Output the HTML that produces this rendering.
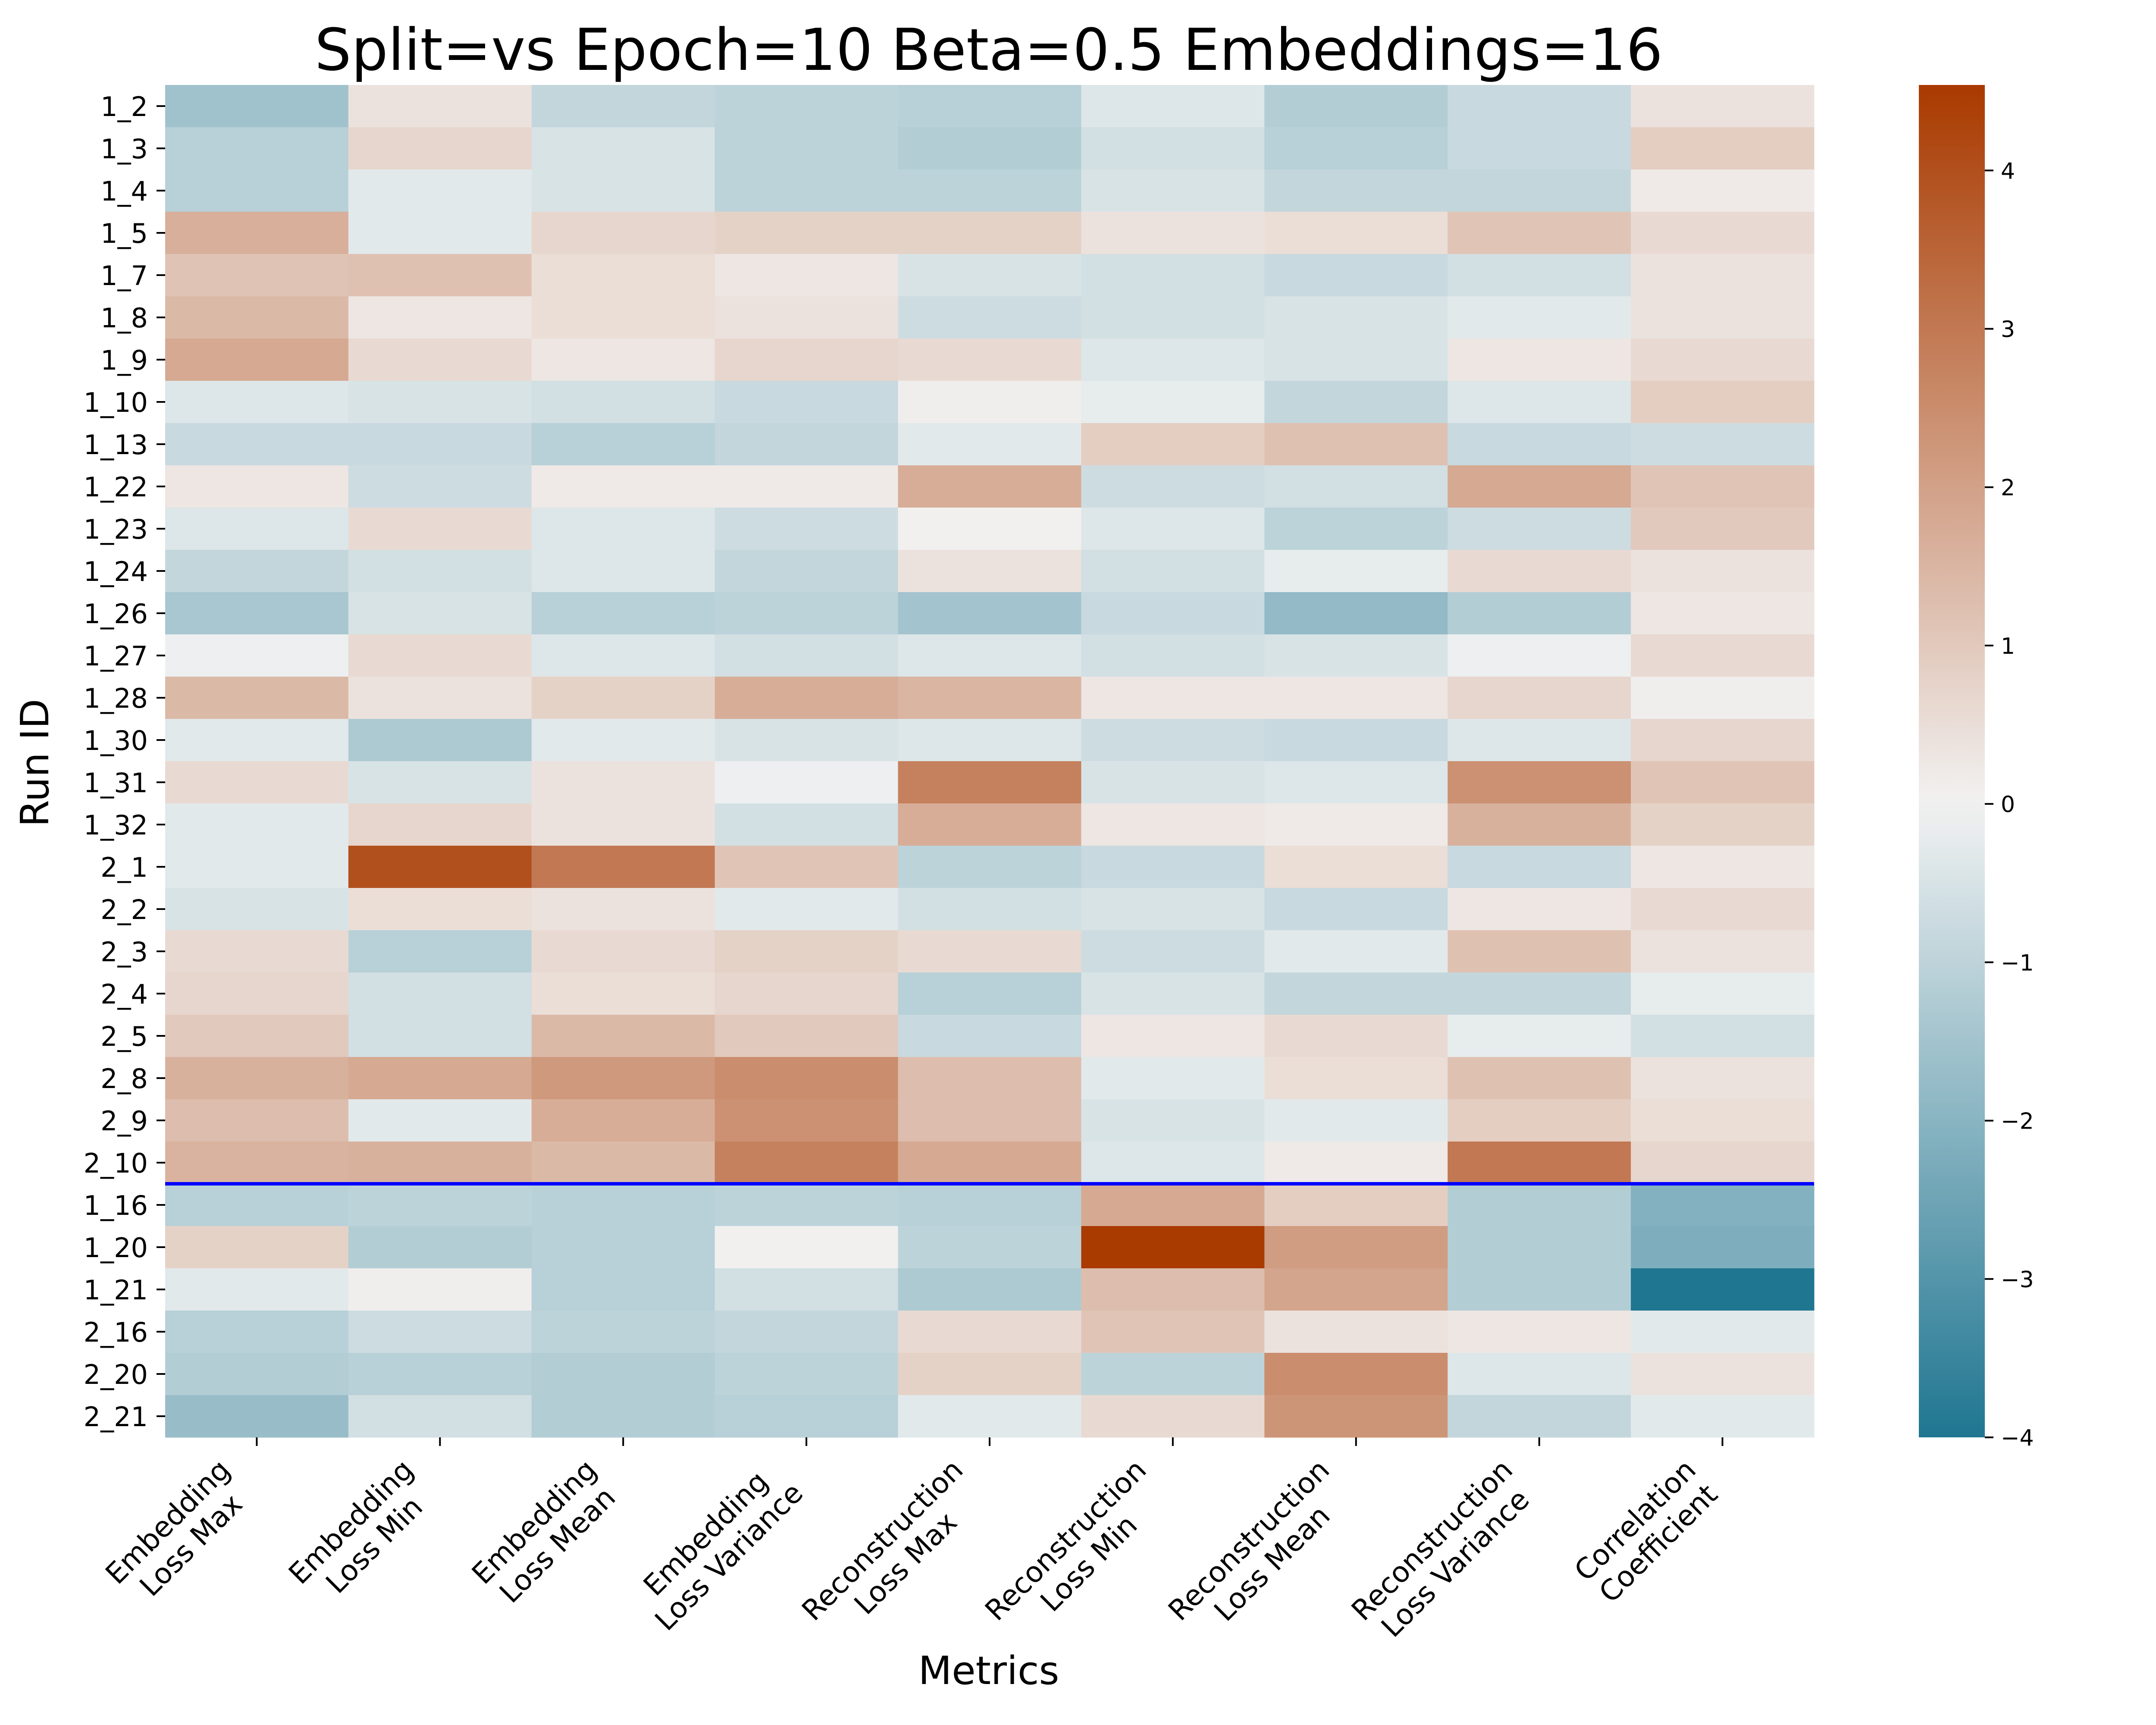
<!DOCTYPE html>
<html><head><meta charset="utf-8"><style>
html,body{margin:0;padding:0;background:#fff;}
svg{display:block;font-family:"DejaVu Sans","Liberation Sans",sans-serif;}
</style></head><body>
<svg id="chart" width="5200" height="4000" viewBox="0 0 5200 4000" xmlns="http://www.w3.org/2000/svg">
<text x="2293" y="162" font-size="134" text-anchor="middle">Split=vs Epoch=10 Beta=0.5 Embeddings=16</text>
<text transform="translate(112,1769) rotate(-90)" font-size="90" text-anchor="middle">Run ID</text>
<text x="2293" y="3905" font-size="90" text-anchor="middle">Metrics</text>
<g id="cells"></g>
<g id="ylabels"></g>
<g id="xlabels"></g>
<line id="divider" x1="383" x2="4207" y1="2745" y2="2745" stroke="#0000ff" stroke-width="8"/>
<defs><linearGradient id="cbgrad" x1="0" y1="1" x2="0" y2="0"></linearGradient></defs>
<rect x="4450" y="197" width="153" height="3136" fill="url(#cbgrad)"/>
<g id="cbticks"></g>
</svg>
<script>
const rows = ["1_2","1_3","1_4","1_5","1_7","1_8","1_9","1_10","1_13","1_22","1_23","1_24","1_26","1_27","1_28","1_30","1_31","1_32","2_1","2_2","2_3","2_4","2_5","2_8","2_9","2_10","1_16","1_20","1_21","2_16","2_20","2_21"];
const cols = [["Embedding","Loss Max"],["Embedding","Loss Min"],["Embedding","Loss Mean"],["Embedding","Loss Variance"],["Reconstruction","Loss Max"],["Reconstruction","Loss Min"],["Reconstruction","Loss Mean"],["Reconstruction","Loss Variance"],["Correlation","Coefficient"]];
const values = [
[-1.55,0.4,-0.9,-1.0,-1.1,-0.4,-1.2,-0.8,0.4],
[-1.1,0.7,-0.5,-1.0,-1.2,-0.6,-1.1,-0.8,0.9],
[-1.1,-0.3,-0.5,-1.0,-1.0,-0.5,-0.9,-0.9,0.2],
[1.65,-0.3,0.7,0.8,0.8,0.4,0.5,1.1,0.6],
[1.16,1.2,0.5,0.3,-0.5,-0.6,-0.8,-0.6,0.4],
[1.4,0.3,0.5,0.4,-0.7,-0.6,-0.5,-0.3,0.4],
[1.8,0.6,0.3,0.7,0.6,-0.4,-0.5,0.3,0.6],
[-0.4,-0.5,-0.6,-0.8,0.1,-0.2,-0.9,-0.4,0.9],
[-0.8,-0.8,-1.1,-0.9,-0.3,0.9,1.2,-0.8,-0.7],
[0.3,-0.7,0.2,0.2,1.7,-0.7,-0.6,1.8,1.1],
[-0.4,0.6,-0.4,-0.7,0.05,-0.4,-1.0,-0.7,1.0],
[-0.9,-0.6,-0.4,-0.9,0.4,-0.6,-0.2,0.6,0.4],
[-1.4,-0.5,-1.1,-1.0,-1.5,-0.8,-1.8,-1.2,0.3],
[-0.1,0.6,-0.4,-0.6,-0.4,-0.6,-0.5,-0.1,0.6],
[1.4,0.4,0.8,1.7,1.5,0.3,0.3,0.7,0.1],
[-0.3,-1.3,-0.3,-0.5,-0.4,-0.7,-0.8,-0.4,0.7],
[0.6,-0.5,0.4,-0.1,2.8,-0.5,-0.4,2.4,1.1],
[-0.3,0.7,0.4,-0.6,1.7,0.3,0.2,1.6,0.8],
[-0.3,4.0,3.0,1.1,-1.0,-0.8,0.5,-0.8,0.3],
[-0.5,0.5,0.4,-0.3,-0.6,-0.5,-0.8,0.3,0.6],
[0.6,-1.1,0.6,0.8,0.6,-0.7,-0.3,1.2,0.4],
[0.7,-0.6,0.5,0.7,-1.1,-0.5,-0.9,-0.9,-0.2],
[1.0,-0.6,1.4,1.0,-0.8,0.3,0.6,-0.2,-0.6],
[1.6,1.8,2.2,2.5,1.3,-0.3,0.5,1.2,0.4],
[1.3,-0.3,1.7,2.4,1.3,-0.5,-0.3,0.9,0.5],
[1.55,1.6,1.4,2.8,1.8,-0.4,0.2,3.0,0.7],
[-1.1,-1.0,-1.1,-1.0,-1.1,1.8,0.9,-1.2,-2.1],
[0.8,-1.2,-1.1,0.05,-1.0,4.54,2.1,-1.2,-2.2],
[-0.3,0.1,-1.1,-0.6,-1.3,1.3,1.9,-1.2,-4.0],
[-1.1,-0.7,-1.0,-0.9,0.6,1.1,0.4,0.3,-0.3],
[-1.2,-1.1,-1.2,-1.0,0.8,-1.0,2.5,-0.4,0.4],
[-1.7,-0.6,-1.2,-1.1,-0.3,0.6,2.3,-0.9,-0.3]
];
const cbTicks = [-4,-3,-2,-1,0,1,2,3,4];
const vmin = -4.0, vmax = 4.54;

const NS = "http://www.w3.org/2000/svg";
const L = 383, R = 4207, T = 197, B = 3333;
const cw = (R - L) / cols.length, rh = (B - T) / rows.length;
const xPos = i => L + i * cw;
const yPos = j => T + j * rh;
const neg = [31,118,145], mid = [242,242,242], pos = [169,58,0];
function color(v){
  let a, t;
  if (v >= 0){ a = pos; t = Math.min(1, v / vmax); }
  else { a = neg; t = Math.min(1, v / vmin); }
  const c = mid.map((m,k)=>Math.round(m + (a[k]-m)*t));
  return `rgb(${c[0]},${c[1]},${c[2]})`;
}
const cells = document.getElementById('cells');
values.forEach((row,j)=>row.forEach((v,i)=>{
  const r = document.createElementNS(NS,'rect');
  r.setAttribute('x', xPos(i)); r.setAttribute('y', yPos(j));
  r.setAttribute('width', cw + 0.6); r.setAttribute('height', rh + 0.6);
  r.setAttribute('fill', color(v));
  
  
  cells.appendChild(r);
}));
const div = document.getElementById('divider');
div.setAttribute('y1', yPos(26)); div.setAttribute('y2', yPos(26));
const yl = document.getElementById('ylabels');
rows.forEach((name,j)=>{
  const cy = yPos(j) + rh/2;
  const tk = document.createElementNS(NS,'line');
  tk.setAttribute('x1', L-20); tk.setAttribute('x2', L); tk.setAttribute('y1', cy); tk.setAttribute('y2', cy);
  tk.setAttribute('stroke','#000'); tk.setAttribute('stroke-width','4');
  
  
  yl.appendChild(tk);
  const t = document.createElementNS(NS,'text');
  t.setAttribute('x', L-40); t.setAttribute('y', cy + 23);
  t.setAttribute('font-size', 62); t.setAttribute('text-anchor','end');
  t.textContent = name;
  
  
  yl.appendChild(t);
});
const xl = document.getElementById('xlabels');
cols.forEach((lines,i)=>{
  const cx = xPos(i) + cw/2;
  const tk = document.createElementNS(NS,'line');
  tk.setAttribute('x1', cx); tk.setAttribute('x2', cx); tk.setAttribute('y1', B); tk.setAttribute('y2', B+20);
  tk.setAttribute('stroke','#000'); tk.setAttribute('stroke-width','4');
  
  
  xl.appendChild(tk);
  const fs = 66, lh = 76, h = lh*2;
  const g = document.createElementNS(NS,'g');
  g.setAttribute('transform', `translate(${cx - 0.707*h + 10},${B+40}) rotate(-45)`);
  
  
  xl.appendChild(g);
  const ts = lines.map((ln,k)=>{
    const t = document.createElementNS(NS,'text');
    t.setAttribute('font-size', fs); t.setAttribute('text-anchor','middle');
    t.setAttribute('y', 56 + k*lh);
    t.textContent = ln;
    
    
    g.appendChild(t); return t;
  });
  const w = Math.max(...ts.map(t=>t.getComputedTextLength()));
  ts.forEach(t=>t.setAttribute('x', -w/2));
});
const grad = document.getElementById('cbgrad');
for (let k=0;k<=40;k++){
  const v = vmin + (vmax-vmin)*k/40;
  const s = document.createElementNS(NS,'stop');
  s.setAttribute('offset', (k/40).toFixed(3));
  s.setAttribute('stop-color', color(v));
  grad.appendChild(s);
}
const cbt = document.getElementById('cbticks');
const cbY = v => B - (v - vmin)/(vmax - vmin)*(B - T);
cbTicks.forEach(v=>{
  const y = cbY(v);
  const tk = document.createElementNS(NS,'line');
  tk.setAttribute('x1', 4603); tk.setAttribute('x2', 4623); tk.setAttribute('y1', y); tk.setAttribute('y2', y);
  tk.setAttribute('stroke','#000'); tk.setAttribute('stroke-width','4');
  
  
  cbt.appendChild(tk);
  const t = document.createElementNS(NS,'text');
  t.setAttribute('x', 4640); t.setAttribute('y', y + 19);
  t.setAttribute('font-size', 52);
  t.textContent = v < 0 ? '\u2212' + Math.abs(v) : String(v);
  
  
  cbt.appendChild(t);
});
</script>
</body></html>
